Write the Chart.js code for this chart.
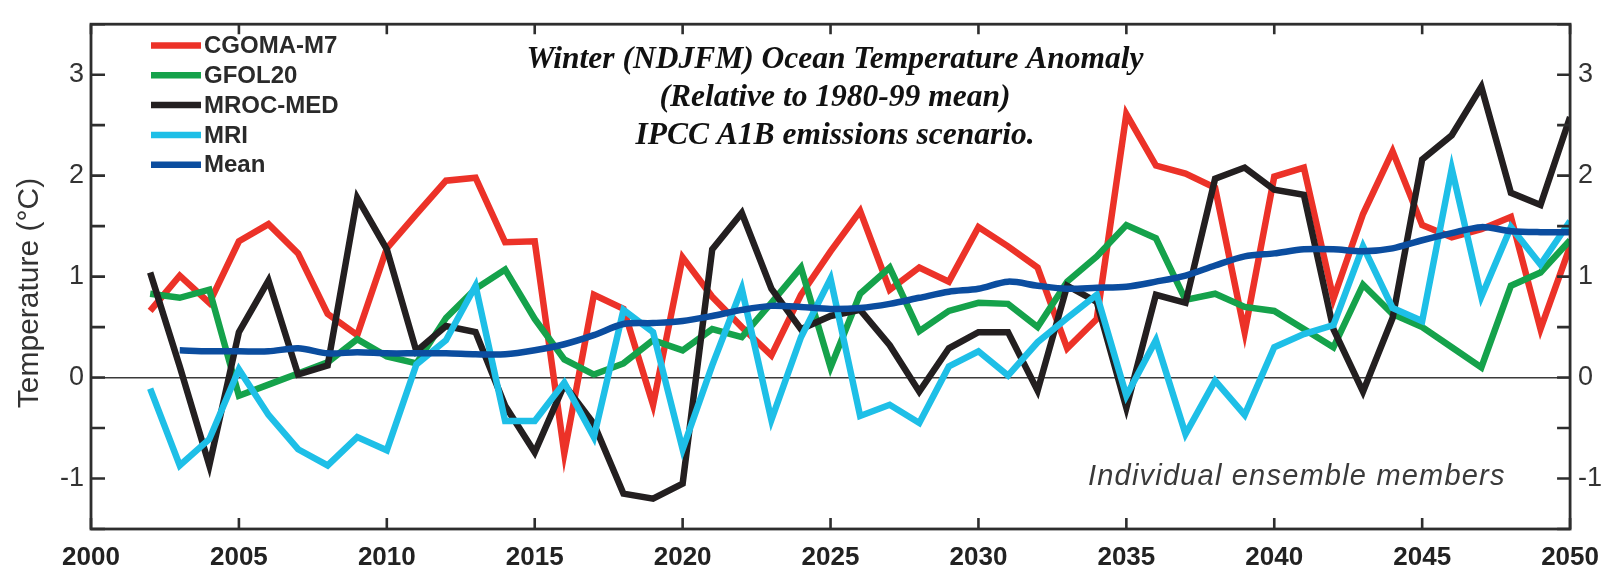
<!DOCTYPE html>
<html>
<head>
<meta charset="utf-8">
<script src="https://cdn.jsdelivr.net/npm/chart.js@4/dist/chart.umd.min.js"></script>
<style>
  html, body { margin: 0; padding: 0; background: #ffffff; }
  #wrap { width: 1612px; height: 571px; }
</style>
</head>
<body>
<div id="wrap"><canvas id="chart" width="1612" height="571"></canvas></div>
<script>
// Winter (NDJFM) ocean temperature anomaly, °C relative to the 1980-99 mean
const years = [2002, 2003, 2004, 2005, 2006, 2007, 2008, 2009, 2010, 2011,
               2012, 2013, 2014, 2015, 2016, 2017, 2018, 2019, 2020, 2021,
               2022, 2023, 2024, 2025, 2026, 2027, 2028, 2029, 2030, 2031,
               2032, 2033, 2034, 2035, 2036, 2037, 2038, 2039, 2040, 2041,
               2042, 2043, 2044, 2045, 2046, 2047, 2048, 2049, 2050];

const cgomaM7 = [0.66, 1.01, 0.74, 1.35, 1.52, 1.23, 0.63, 0.42, 1.28, 1.62,
                 1.95, 1.98, 1.34, 1.35, -0.75, 0.82, 0.68, -0.27, 1.19, 0.80,
                 0.50, 0.22, 0.82, 1.25, 1.65, 0.87, 1.09, 0.95, 1.49, 1.30,
                 1.09, 0.29, 0.58, 2.61, 2.10, 2.02, 1.88, 0.45, 1.99, 2.08,
                 0.78, 1.62, 2.24, 1.51, 1.39, 1.47, 1.59, 0.48, 1.30];

const gfol20 = [0.83, 0.79, 0.87, -0.18, -0.07, 0.04, 0.15, 0.38, 0.21, 0.14,
                0.59, 0.88, 1.07, 0.58, 0.18, 0.03, 0.14, 0.37, 0.27, 0.48,
                0.40, 0.74, 1.09, 0.10, 0.83, 1.09, 0.46, 0.66, 0.74, 0.73,
                0.50, 0.95, 1.20, 1.51, 1.38, 0.77, 0.83, 0.70, 0.66, 0.48,
                0.30, 0.92, 0.63, 0.50, 0.30, 0.10, 0.91, 1.04, 1.36];

const mrocMed = [1.04, 0.11, -0.87, 0.45, 0.96, 0.03, 0.12, 1.78, 1.27, 0.26,
                 0.51, 0.45, -0.28, -0.74, -0.07, -0.46, -1.15, -1.20, -1.05, 1.27,
                 1.63, 0.88, 0.48, 0.61, 0.67, 0.32, -0.14, 0.29, 0.45, 0.45,
                 -0.13, 0.91, 0.75, -0.30, 0.82, 0.74, 1.97, 2.08, 1.86, 1.81,
                 0.48, -0.14, 0.59, 2.16, 2.40, 2.88, 1.83, 1.71, 2.58];

const mri = [-0.11, -0.87, -0.61, 0.08, -0.37, -0.71, -0.87, -0.59, -0.72, 0.13,
             0.37, 0.91, -0.43, -0.43, -0.05, -0.59, 0.67, 0.45, -0.71, 0.12,
             0.88, -0.42, 0.40, 0.98, -0.38, -0.27, -0.45, 0.11, 0.26, 0.02,
             0.35, 0.59, 0.82, -0.18, 0.37, -0.56, -0.03, -0.37, 0.30, 0.43,
             0.52, 1.30, 0.69, 0.56, 2.07, 0.80, 1.49, 1.12, 1.55];

// ensemble mean begins one year later
const meanYears = [2003, 2004, 2005, 2006, 2007, 2008, 2009, 2010, 2011, 2012,
                   2013, 2014, 2015, 2016, 2017, 2018, 2019, 2020, 2021, 2022,
                   2023, 2024, 2025, 2026, 2027, 2028, 2029, 2030, 2031, 2032,
                   2033, 2034, 2035, 2036, 2037, 2038, 2039, 2040, 2041, 2042,
                   2043, 2044, 2045, 2046, 2047, 2048, 2049, 2050];
const ensembleMean = [0.27, 0.26, 0.26, 0.26, 0.29, 0.24, 0.25, 0.24, 0.24, 0.24,
                      0.23, 0.23, 0.27, 0.33, 0.42, 0.53, 0.54, 0.56, 0.61, 0.67,
                      0.71, 0.70, 0.68, 0.69, 0.73, 0.79, 0.85, 0.88, 0.95, 0.91,
                      0.88, 0.89, 0.90, 0.95, 1.01, 1.11, 1.20, 1.23, 1.27, 1.27,
                      1.25, 1.28, 1.36, 1.43, 1.49, 1.45, 1.44, 1.44];

const xTickYears = [2000, 2005, 2010, 2015, 2020, 2025, 2030, 2035, 2040, 2045, 2050];
const yLabelValues = [-1, 0, 1, 2, 3];

const titleLines = [
  'Winter (NDJFM) Ocean Temperature Anomaly',
  '(Relative to 1980-99 mean)',
  'IPCC A1B emissions scenario.'
];

const pts = (xs, ys) => xs.map((x, i) => ({ x: x, y: ys[i] }));

const series = (label, xs, ys, color, order, tension) => ({
  label: label,
  data: pts(xs, ys),
  borderColor: color,
  backgroundColor: color,
  borderWidth: 6.5,
  pointRadius: 0,
  fill: false,
  tension: tension || 0,
  borderJoinStyle: 'miter',
  order: order
});

const datasets = [
  series('CGOMA-M7', years, cgomaM7, '#ec3228', 4),
  series('GFOL20', years, gfol20, '#15a24b', 3),
  series('MROC-MED', years, mrocMed, '#231f20', 2),
  series('MRI', years, mri, '#1ebfe7', 1),
  series('Mean', meanYears, ensembleMean, '#0b4d9f', 0, 0.3)
];

// Box around the plot with inward tick marks, taken from the scales' ticks
const framePlugin = {
  id: 'frame',
  afterDatasetsDraw(chart) {
    const { ctx, chartArea: a, scales } = chart;
    ctx.save();
    ctx.strokeStyle = '#2e2e2e';
    ctx.lineWidth = 2.6;
    ctx.lineCap = 'butt';
    ctx.beginPath();
    scales.y.ticks.forEach(t => {
      const py = scales.y.getPixelForValue(t.value);
      ctx.moveTo(a.left, py); ctx.lineTo(a.left + 14, py);
      ctx.moveTo(a.right - 13, py); ctx.lineTo(a.right, py);
    });
    scales.x.ticks.forEach(t => {
      const px = scales.x.getPixelForValue(t.value);
      ctx.moveTo(px, a.bottom); ctx.lineTo(px, a.bottom - 11);
      ctx.moveTo(px, a.top); ctx.lineTo(px, a.top + 10);
    });
    ctx.stroke();
    ctx.lineWidth = 2.8;
    ctx.strokeRect(a.left, a.top, a.right - a.left, a.bottom - a.top);
    ctx.restore();
  }
};

// Title block, legend, annotation and y-axis title
const textPlugin = {
  id: 'texts',
  afterDraw(chart) {
    const { ctx } = chart;
    ctx.save();

    ctx.fillStyle = '#111';
    ctx.textAlign = 'center';
    ctx.textBaseline = 'alphabetic';
    ctx.font = 'italic bold 31.5px "Liberation Serif", "Times New Roman", serif';
    const tb = [67.5, 106, 144];
    titleLines.forEach((s, i) => ctx.fillText(s, 835, tb[i]));

    ctx.textAlign = 'left';
    ctx.textBaseline = 'middle';
    ctx.font = 'bold 24px "Liberation Sans", Arial, sans-serif';
    chart.data.datasets.forEach((ds, i) => {
      const yy = 45.5 + i * 29.8;
      ctx.strokeStyle = ds.borderColor;
      ctx.lineWidth = 6.5;
      ctx.beginPath();
      ctx.moveTo(151, yy); ctx.lineTo(201, yy);
      ctx.stroke();
      ctx.fillStyle = '#2a2a2a';
      ctx.fillText(ds.label, 204, yy + 1);
    });

    ctx.font = 'italic 29px "Liberation Sans", Arial, sans-serif';
    ctx.fillStyle = '#3a3a3a';
    ctx.textBaseline = 'alphabetic';
    if ('letterSpacing' in ctx) ctx.letterSpacing = '1.2px';
    ctx.fillText('Individual ensemble members', 1088, 485);
    if ('letterSpacing' in ctx) ctx.letterSpacing = '0px';

    ctx.translate(37.5, 293);
    ctx.rotate(-Math.PI / 2);
    ctx.textAlign = 'center';
    ctx.font = '30px "Liberation Sans", Arial, sans-serif';
    ctx.fillStyle = '#333';
    ctx.fillText('Temperature (°C)', 0, 0);
    ctx.restore();
  }
};

const yTickLabel = v => (yLabelValues.includes(v) ? String(v) : '');

new Chart(document.getElementById('chart'), {
  type: 'line',
  data: { datasets: datasets },
  options: {
    responsive: false,
    devicePixelRatio: 1,
    animation: false,
    events: [],
    layout: { padding: { top: 12, left: 0, right: 0, bottom: 0 } },
    plugins: { legend: { display: false }, tooltip: { enabled: false }, title: { display: false } },
    scales: {
      x: {
        type: 'linear',
        position: 'bottom',
        min: xTickYears[0],
        max: xTickYears[xTickYears.length - 1],
        afterBuildTicks(s) { s.ticks = xTickYears.map(v => ({ value: v })); },
        afterFit(s) { s.height = 42; },
        border: { display: false },
        grid: { display: false, drawTicks: false },
        ticks: {
          padding: 13,
          color: '#222',
          font: { family: '"Liberation Sans", Arial, sans-serif', size: 26, weight: 'bold' },
          maxRotation: 0,
          callback: v => String(v)
        }
      },
      y: {
        type: 'linear',
        position: 'left',
        min: -1.5,
        max: 3.5,
        afterFit(s) { s.width = 91; },
        border: { display: false },
        grid: {
          drawTicks: false,
          lineWidth: 1.6,
          color: c => (c.tick && c.tick.value === 0 ? '#3a3a3a' : 'rgba(0,0,0,0)')
        },
        ticks: {
          stepSize: 0.5,
          padding: 7,
          color: '#333',
          font: { family: '"Liberation Sans", Arial, sans-serif', size: 27 },
          callback: yTickLabel
        }
      },
      y2: {
        type: 'linear',
        position: 'right',
        min: -1.5,
        max: 3.5,
        afterFit(s) { s.width = 41; },
        border: { display: false },
        grid: { display: false, drawTicks: false },
        ticks: {
          stepSize: 0.5,
          padding: 8,
          color: '#333',
          font: { family: '"Liberation Sans", Arial, sans-serif', size: 27 },
          callback: yTickLabel
        }
      }
    }
  },
  plugins: [framePlugin, textPlugin]
});
</script>
</body>
</html>
